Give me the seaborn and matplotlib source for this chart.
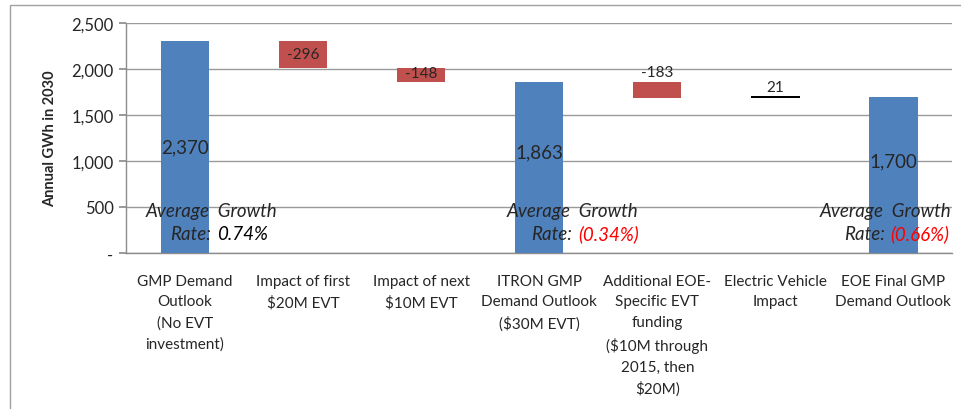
import matplotlib.pyplot as plt
import matplotlib.patches as mpatches
import numpy as np
import pandas as pd
import seaborn as sns

# Waterfall data (GWh in 2030)
categories = [
    "GMP Demand\nOutlook\n(No EVT\ninvestment)",
    "Impact of first\n\\$20M EVT",
    "Impact of next\n\\$10M EVT",
    "ITRON GMP\nDemand Outlook\n(\\$30M EVT)",
    "Additional EOE-\nSpecific EVT\nfunding\n(\\$10M through\n2015, then\n\\$20M)",
    "Electric Vehicle\nImpact",
    "EOE Final GMP\nDemand Outlook",
]
values = [2307, -296, -148, 1863, -183, 21, 1700]
is_total = [True, False, False, True, False, False, True]
value_labels = ["2,370", "-296", "-148", "1,863", "-183", "21", "1,700"]
label_above = [False, False, False, False, True, True, False]
label_dy = [0, 0, 1, 11, 0, 0, 10]

growth_bar = [0, 3, 6]
growth_rates = ["0.74%", "(0.34%)", "(0.66%)"]
growth_colors = ["black", "red", "red"]
growth_shift = [0.22, 0.28, -0.07]

# running totals -> bar bottoms / heights
bottoms, heights, colors = [], [], []
run = 0
for v, tot in zip(values, is_total):
    if tot:
        bottoms.append(0)
        heights.append(v)
        colors.append("#4F81BD")
        run = v
    else:
        bottoms.append(min(run, run + v))
        heights.append(abs(v))
        colors.append("#C0504D" if v < 0 else "black")
        run += v

df = pd.DataFrame({"cat": categories, "height": heights})

sns.set_theme(style="white")
plt.rcParams["font.family"] = ["Lato", "DejaVu Sans"]

fig = plt.figure(figsize=(9.62, 4.10), dpi=100)
ax = fig.add_axes([0.131, 0.3805, 0.859, 0.561])

sns.barplot(data=df, x="cat", y="height", order=categories, width=0.41,
            errorbar=None, bottom=bottoms, color="#4F81BD", ax=ax, zorder=3)
for patch, c in zip(ax.patches, colors):
    patch.set_facecolor(c)
    patch.set_edgecolor("none")

# value labels
for i, (b, h) in enumerate(zip(bottoms, heights)):
    if label_above[i]:
        ax.annotate(value_labels[i], (i, b + h), xytext=(0, 2),
                    textcoords="offset points", ha="center", va="bottom",
                    fontsize=11, zorder=4)
    else:
        ax.annotate(value_labels[i], (i, b + h / 2), xytext=(0, label_dy[i]),
                    textcoords="offset points", ha="center", va="center",
                    fontsize=13.5 if is_total[i] else 11, zorder=4)

# growth rate notes
for k, i in enumerate(growth_bar):
    xs = i + growth_shift[k]
    ax.text(xs, 467, "Average  Growth", ha="center", va="center",
            fontsize=13.5, style="italic", zorder=5)
    ax.text(xs, 215, "Rate:", ha="right", va="center",
            fontsize=13.5, style="italic", zorder=5)
    ax.annotate(growth_rates[k], (xs, 215), xytext=(4, 0),
                textcoords="offset points", ha="left", va="center",
                fontsize=13.5, style="italic", color=growth_colors[k], zorder=5)

ax.set_ylim(0, 2500)
ax.set_xlim(-0.5, len(categories) - 0.5)
yt = np.arange(0, 2501, 500)
ax.set_yticks(yt)
ax.set_yticklabels(["-" if t == 0 else f"{t:,}" for t in yt], fontsize=12)
ax.yaxis.grid(True, color="#9A9A9A", lw=1)
ax.set_axisbelow(True)

ax.set_xticks(range(len(categories)))
ax.set_xticklabels(categories, fontsize=11, linespacing=1.6, va="top")
ax.set_xticks(np.arange(-0.5, len(categories)), minor=True)
ax.tick_params(axis="x", which="major", length=0, pad=15)
ax.tick_params(axis="x", which="minor", length=5, color="#8C8C8C", direction="out")
ax.tick_params(axis="y", length=5, color="#8C8C8C", direction="out", pad=4, left=True)

ax.set_xlabel("")
ax.set_ylabel("Annual GWh in 2030", fontsize=10.5, fontweight="bold", labelpad=10)
for s in ["top", "right"]:
    ax.spines[s].set_visible(False)
for s in ["left", "bottom"]:
    ax.spines[s].set_color("#8C8C8C")
    ax.spines[s].set_linewidth(1)

# outer chart frame
fig.patches.append(mpatches.Rectangle((10 / 962, -0.05), 1.1, 1 - 6 / 410 + 0.05,
                                      transform=fig.transFigure, fill=False,
                                      edgecolor="#A0A0A0", lw=1))

fig.savefig("out.png", dpi=100)
